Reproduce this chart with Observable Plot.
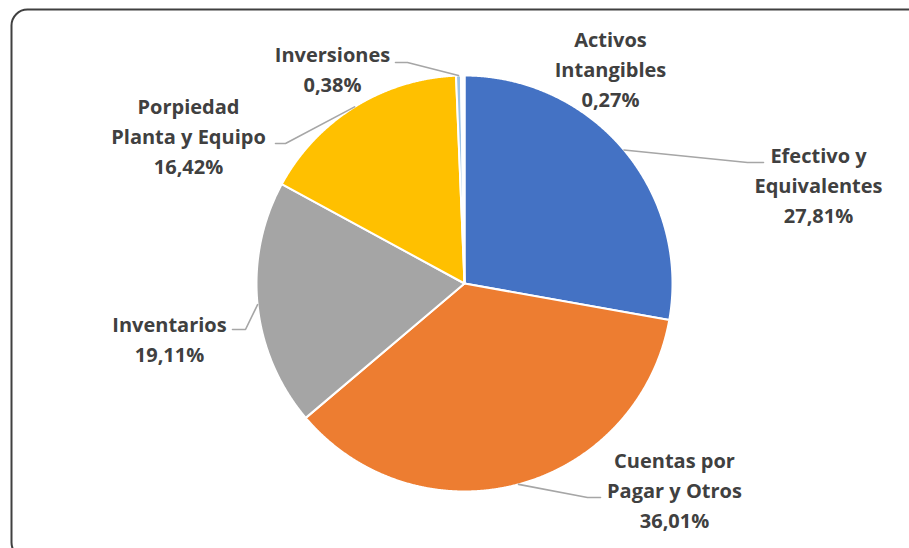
<!DOCTYPE html>
<html>
<head>
<meta charset="utf-8">
<script src="https://cdn.jsdelivr.net/npm/d3@7"></script>
<script src="https://cdn.jsdelivr.net/npm/@observablehq/plot@0.6"></script>
<style>
  html, body { margin: 0; padding: 0; background: #ffffff; }
  #chart svg { display: block; }
</style>
</head>
<body>
<div id="chart"></div>
<script>
// ---- Data ----
const categories = [
  "Efectivo y\nEquivalentes",
  "Cuentas por\nPagar y Otros",
  "Inventarios",
  "Porpiedad\nPlanta y Equipo",
  "Inversiones",
  "Activos\nIntangibles"
];
const values = [27.81, 36.01, 19.11, 16.42, 0.38, 0.27];
const colors = ["#4472C4", "#ED7D31", "#A5A5A5", "#FFC000", "#9DC3E6", "#FFFFFF"];

// ---- Layout (pixels) ----
const W = 909, H = 548;
const CX = 464, CY = 283, R = 208;
// label block centre and leader-line path (elbow, end) for each category
const labelLayout = [
  { x: 818, y: 183, leader: [[747, 162], [763, 162]] },
  { x: 674, y: 488, leader: [[587, 497], [600, 497]] },
  { x: 169, y: 337, leader: [[245, 329], [232, 329]] },
  { x: 188, y: 134, leader: [[285, 143], [275, 143]] },
  { x: 332, y: 67,  leader: [[407, 62], [395, 62]] },
  { x: 610, y: 67,  leader: null }
];

// ---- Build slice polygons from the values ----
const total = d3.sum(values);
let acc = 0;
const slices = values.map((v, i) => {
  const a0 = acc / total * 2 * Math.PI;
  acc += v;
  const a1 = acc / total * 2 * Math.PI;
  return { i, a0, a1, mid: (a0 + a1) / 2, value: v, name: categories[i], color: colors[i] };
});

const polyPts = [];
for (const s of slices) {
  polyPts.push({ k: s.i, x: CX, y: CY, fill: s.color });
  const n = Math.max(3, Math.ceil((s.a1 - s.a0) / 0.004));
  for (let j = 0; j <= n; j++) {
    const a = s.a0 + (s.a1 - s.a0) * j / n;
    polyPts.push({ k: s.i, x: CX + R * Math.sin(a), y: CY - R * Math.cos(a), fill: s.color });
  }
  polyPts.push({ k: s.i, x: CX, y: CY, fill: s.color });
}

// ---- Leader lines: start on the slice's outer edge at its mid-angle ----
const leaderPts = [];
slices.forEach((s, i) => {
  const L = labelLayout[i].leader;
  if (!L) return;
  leaderPts.push({ k: i, x: CX + R * Math.sin(s.mid), y: CY - R * Math.cos(s.mid) });
  for (const [x, y] of L) leaderPts.push({ k: i, x, y });
});

// ---- Labels ----
const fmt = v => v.toFixed(2).replace(".", ",") + "%";
const labels = slices.map((s, i) => ({
  x: labelLayout[i].x,
  y: labelLayout[i].y,
  text: s.name + "\n" + fmt(s.value)
}));

const chart = Plot.plot({
  width: W,
  height: H,
  margin: 0,
  x: { domain: [0, W], range: [0, W], axis: null },
  y: { domain: [0, H], range: [0, H], axis: null },
  marks: [
    Plot.frame({
      rx: 16,
      stroke: "#404040",
      strokeWidth: 2,
      insetLeft: 11,
      insetTop: 9,
      insetRight: -14,
      insetBottom: -10
    }),
    Plot.line(polyPts, {
      x: "x", y: "y", z: "k",
      fill: "fill",
      stroke: "#ffffff",
      strokeWidth: 2,
      strokeLinejoin: "round",
      curve: "linear"
    }),
    Plot.line(leaderPts, {
      x: "x", y: "y", z: "k",
      stroke: "#a6a6a6",
      strokeWidth: 1.6,
      curve: "linear"
    }),
    Plot.text(labels, {
      x: "x", y: "y", text: "text",
      textAnchor: "middle",
      lineAnchor: "middle",
      lineHeight: 1.5,
      fontSize: 20,
      fontWeight: "bold",
      fontFamily: "'Open Sans', sans-serif",
      fill: "#404040"
    })
  ]
});

document.getElementById("chart").appendChild(chart);
</script>
</body>
</html>
